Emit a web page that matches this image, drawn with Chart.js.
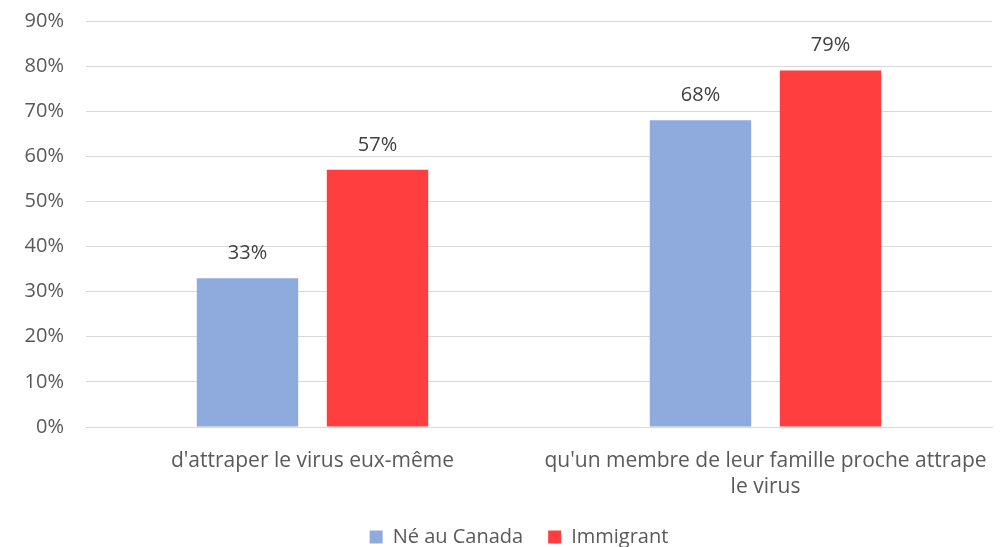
<!DOCTYPE html>
<html>
<head>
<meta charset="utf-8">
<script src="https://cdn.jsdelivr.net/npm/chart.js@4/dist/chart.umd.min.js"></script>
<style>
  html, body { margin: 0; padding: 0; background: #fff; }
  #wrap { width: 1005px; height: 547px; position: relative; }
</style>
</head>
<body>
<div id="wrap"><canvas id="chart"></canvas></div>
<script>
const categories = [
    ["d'attraper le virus eux-même"],
    ["qu'un membre de leur famille proche attrape", "le virus"]
];
const seriesNames = ['Né au Canada', 'Immigrant'];
const neAuCanada = [33, 68];
const immigrant = [57, 79];
const colors = ['#8faadc', '#ff3f3f'];

// étiquettes de valeur au-dessus des barres
const valueLabels = {
    id: 'valueLabels',
    afterLayout(chart) {
        // la légende de l'original est un peu décalée vers la droite
        chart.legend.left += 23;
        chart.legend.right += 23;
    },
    afterDatasetsDraw(chart) {
        const ctx = chart.ctx;
        ctx.save();
        ctx.font = '20px "Open Sans"';
        ctx.fillStyle = '#404040';
        ctx.textAlign = 'center';
        ctx.textBaseline = 'middle';
        chart.data.datasets.forEach((ds, i) => {
            chart.getDatasetMeta(i).data.forEach((bar, j) => {
                ctx.fillText(ds.data[j] + '%', bar.x, bar.y - 25);
            });
        });
        ctx.restore();
    }
};

Chart.defaults.font.family = '"Open Sans"';
Chart.defaults.font.size = 20;
Chart.defaults.color = '#595959';

new Chart(document.getElementById('chart'), {
    type: 'bar',
    data: {
        labels: categories,
        datasets: [
            { label: seriesNames[0], data: neAuCanada, backgroundColor: colors[0] },
            { label: seriesNames[1], data: immigrant, backgroundColor: colors[1] }
        ]
    },
    options: {
        responsive: true,
        maintainAspectRatio: false,
        animation: false,
        layout: { padding: { top: 21, right: 13, left: 0, bottom: -10 } },
        datasets: { bar: { categoryPercentage: 0.574, barPercentage: 0.78 } },
        scales: {
            x: {
                afterFit: s => { s.height = 75; s.paddingLeft = 0; s.paddingRight = 0; },
                grid: { display: false },
                border: { color: '#d9d9d9', width: 1 },
                ticks: { padding: 13, maxRotation: 0, autoSkip: false, font: { size: 21, lineHeight: 1.25 } }
            },
            y: {
                min: 0, max: 90,
                afterFit: s => { s.width = 86; s.paddingTop = 0; s.paddingBottom = 0; },
                grid: { color: '#d9d9d9', lineWidth: 1, drawTicks: false },
                border: { display: false },
                ticks: { stepSize: 10, padding: 22, callback: v => v + '%' }
            }
        },
        plugins: {
            legend: {
                position: 'bottom',
                labels: { boxWidth: 13, boxHeight: 13, padding: 25 }
            },
            tooltip: { enabled: false }
        }
    },
    plugins: [valueLabels]
});
</script>
</body>
</html>
